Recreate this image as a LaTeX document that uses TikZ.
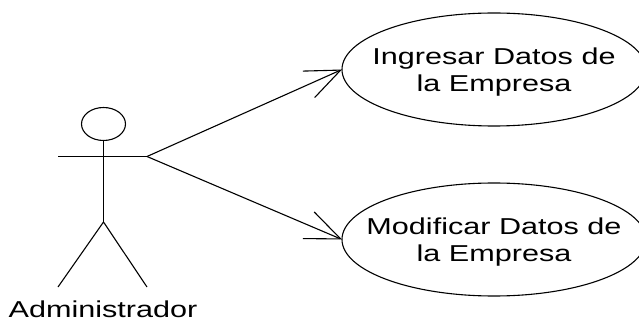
\documentclass[tikz,border=0pt]{standalone}
\usepackage{fontspec}
\setmainfont[FakeStretch=1.33]{Liberation Sans}
\usetikzlibrary{shapes.geometric,arrows.meta}
\newcommand{\ucstrut}{\rule{0pt}{22pt}}
\tikzset{
  x=1pt,y=-1pt,
  line/.style={draw=black,line width=1.1pt},
  usecase/.style={ellipse,draw=black,line width=1.1pt,minimum width=304pt,minimum height=113pt,inner xsep=-30pt,inner ysep=0pt,outer sep=0pt,align=center,font=\fontsize{23}{27}\selectfont},
  assoc/.style={line,-{Straight Barb[length=35pt,width=29pt,line width=1.1pt]}},
  actorhead/.style={ellipse,draw=black,line width=1.1pt,minimum width=44pt,minimum height=33pt,inner sep=0pt,outer sep=0pt},
  actorlabel/.style={inner sep=0pt,anchor=base,font=\fontsize{23}{27}\selectfont}
}
\begin{document}
\begin{tikzpicture}
\useasboundingbox (0,0) rectangle (639,320);
\node[usecase] (u1) at (494,69.5) {\ucstrut Ingresar Datos de\\la Empresa};
\node[usecase] (u2) at (494,239.5) {\ucstrut Modificar Datos de\\la Empresa};
\node[actorhead] (head) at (103.5,124) {};
\coordinate (larm) at (58,156.5);
\coordinate (rarm) at (147,156.5);
\coordinate (hip) at (103.5,222);
\coordinate (lfoot) at (58,287);
\coordinate (rfoot) at (147,287);
\node[actorlabel] (name) at (103,317) {Administrador};
\draw[line] (head.south) -- (hip);
\draw[line] (larm) -- (rarm);
\draw[line] (lfoot) -- (hip) -- (rfoot);
\draw[assoc] (rarm) -- (u1.west);
\draw[assoc] (rarm) -- (u2.west);
\end{tikzpicture}
\end{document}
